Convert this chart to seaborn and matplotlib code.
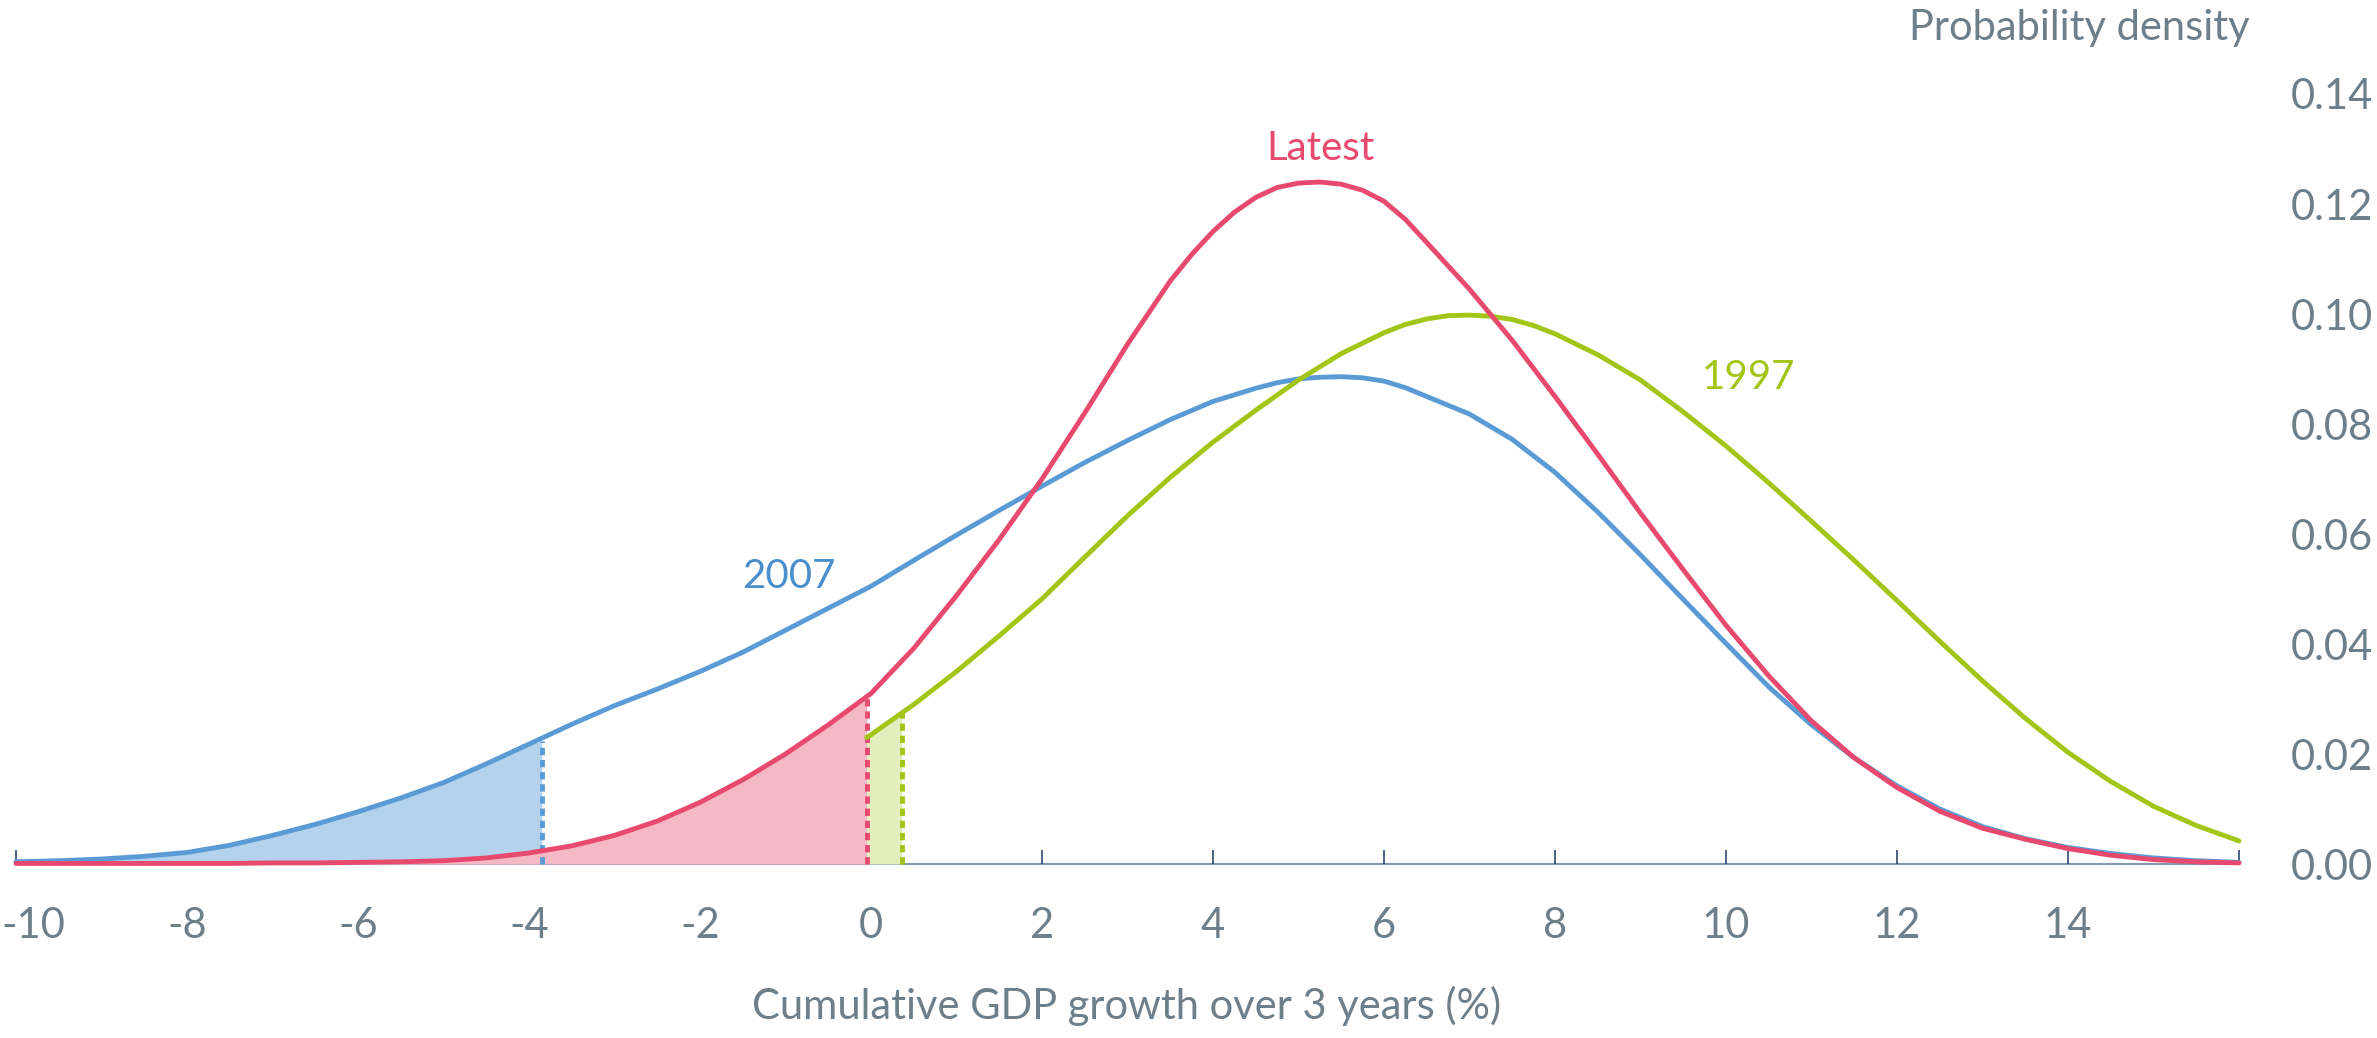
import numpy as np
import pandas as pd
import seaborn as sns
import matplotlib.pyplot as plt
import matplotlib.transforms as mtransforms

# densities (0.5 steps, a few extra points near the peaks)
x_2007 = [-10, -9.5, -9, -8.5, -8, -7.5, -7, -6.5, -6, -5.5, -5, -4.5, -4, -3.5, -3, -2.5, -2,
          -1.5, -1, -0.5, 0, 0.5, 1, 1.5, 2, 2.5, 3, 3.5, 4, 4.5, 4.75, 5, 5.25, 5.5, 5.75, 6,
          6.25, 6.5, 7, 7.5, 8, 8.5, 9, 9.5, 10, 10.5, 11, 11.5, 12, 12.5, 13, 13.5, 14, 14.5,
          15, 15.5, 16]
dens_2007 = [0.0004, 0.0006, 0.0009, 0.0014, 0.0021, 0.0034, 0.0052, 0.0072, 0.0095, 0.0120,
             0.0148, 0.0182, 0.0218, 0.0254, 0.0288, 0.0318, 0.0350, 0.0385, 0.0425, 0.0465,
             0.0505, 0.0552, 0.0598, 0.0643, 0.0687, 0.0730, 0.0770, 0.0808, 0.0841, 0.0865,
             0.0875, 0.0882, 0.0885, 0.0886, 0.0884, 0.0878, 0.0866, 0.0850, 0.0818, 0.0772,
             0.0712, 0.0640, 0.0562, 0.0481, 0.0401, 0.0322, 0.0253, 0.0193, 0.0142, 0.0100,
             0.0068, 0.0046, 0.0030, 0.0019, 0.0011, 0.0006, 0.0003]

x_latest = [-10, -9.5, -9, -8.5, -8, -7.5, -7, -6.5, -6, -5.5, -5, -4.5, -4, -3.5, -3, -2.5, -2,
            -1.5, -1, -0.5, 0, 0.5, 1, 1.5, 2, 2.5, 3, 3.5, 3.75, 4, 4.25, 4.5, 4.75, 5, 5.25,
            5.5, 5.75, 6, 6.25, 6.5, 7, 7.5, 8, 8.5, 9, 9.5, 10, 10.5, 11, 11.5, 12, 12.5, 13,
            13.5, 14, 14.5, 15, 15.5, 16]
dens_latest = [0.0001, 0.0001, 0.0001, 0.0001, 0.0001, 0.0001, 0.0002, 0.0002, 0.0003, 0.0004,
               0.0006, 0.0011, 0.0020, 0.0033, 0.0052, 0.0078, 0.0112, 0.0153, 0.0200, 0.0253,
               0.0310, 0.0392, 0.0488, 0.0590, 0.0700, 0.0820, 0.0945, 0.1060, 0.1108, 0.1150,
               0.1185, 0.1212, 0.1230, 0.1238, 0.1240, 0.1236, 0.1225, 0.1205, 0.1172, 0.1130,
               0.1045, 0.0952, 0.0850, 0.0745, 0.0638, 0.0535, 0.0434, 0.0342, 0.0260, 0.0193,
               0.0139, 0.0096, 0.0065, 0.0045, 0.0028, 0.0016, 0.0008, 0.0004, 0.0002]

x_1997 = [-0.05, 0.0, 0.5, 1.0, 1.5, 2.0, 2.5, 3.0, 3.5, 4.0, 4.5, 5.0, 5.5, 6.0, 6.25, 6.5,
          6.75, 7.0, 7.25, 7.5, 7.75, 8.0, 8.5, 9.0, 9.5, 10.0, 10.5, 11.0, 11.5, 12.0, 12.5,
          13.0, 13.5, 14.0, 14.5, 15.0, 15.5, 16.0]
dens_1997 = [0.0230, 0.0235, 0.0290, 0.0350, 0.0415, 0.0482, 0.0558, 0.0633, 0.0703, 0.0767,
             0.0825, 0.0880, 0.0928, 0.0966, 0.0981, 0.0991, 0.0997, 0.0998, 0.0996, 0.0990,
             0.0979, 0.0964, 0.0926, 0.0880, 0.0822, 0.0760, 0.0693, 0.0623, 0.0552, 0.0479,
             0.0405, 0.0333, 0.0265, 0.0203, 0.0150, 0.0105, 0.0070, 0.0042]

# shaded tails: cut-off x and the density there
cut_2007 = (-3.85, 0.0223)
cut_latest = (-0.05, 0.0307)
cut_1997 = (0.36, 0.0275)

x_ticks = list(range(-10, 17, 2))
x_tick_labels = [str(t) for t in x_ticks[:-1]] + [""]
y_ticks = [0.0, 0.02, 0.04, 0.06, 0.08, 0.10, 0.12, 0.14]

BLUE = "#5B9BD5"
RED = "#E8496E"
GREEN = "#A2C517"
GREY = "#6D7F8B"
LW = 3.5

sns.set_theme(style="white")
plt.rcParams["font.family"] = ["Lato", "DejaVu Sans"]

fig = plt.figure(figsize=(23.77, 10.38), dpi=100)
ax = fig.add_axes([16 / 2377, 174 / 1038, 2223 / 2377, 770 / 1038])


def tail(xs, ys, cut, lower=None):
    xs = np.asarray(xs); ys = np.asarray(ys)
    m = xs < cut[0] if lower is None else (xs > lower[0]) & (xs < cut[0])
    fx = list(xs[m]) + [cut[0]]
    fy = list(ys[m]) + [cut[1]]
    if lower is not None:
        fx = [lower[0]] + fx
        fy = [lower[1]] + fy
    return fx, fy


fx, fy = tail(x_2007, dens_2007, cut_2007)
ax.fill_between(fx, fy, 0, color="#B4D2EB", lw=0)
fx, fy = tail(x_latest, dens_latest, cut_latest)
ax.fill_between(fx, fy, 0, color="#F5B8C5", lw=0)
fx, fy = tail(x_1997, dens_1997, cut_1997, lower=(x_1997[0], dens_1997[0]))
ax.fill_between(fx, fy, 0, color="#E3EDBD", lw=0)

for cut, c in [(cut_2007, BLUE), (cut_latest, RED), (cut_1997, GREEN)]:
    ax.plot([cut[0], cut[0]], [0, cut[1]], color=c, linewidth=LW, linestyle=(0, (1.5, 1.0)),
            dash_capstyle="butt", clip_on=False)

df = pd.concat([
    pd.DataFrame({"x": x_2007, "y": dens_2007, "s": "2007"}),
    pd.DataFrame({"x": x_1997, "y": dens_1997, "s": "1997"}),
    pd.DataFrame({"x": x_latest, "y": dens_latest, "s": "Latest"}),
])
sns.lineplot(data=df, x="x", y="y", hue="s", palette={"2007": BLUE, "1997": GREEN, "Latest": RED},
             hue_order=["2007", "1997", "Latest"], linewidth=LW, legend=False, ax=ax, sort=False,
             estimator=None)
for ln in ax.lines:
    ln.set_clip_on(False)
    ln.set_solid_joinstyle("round")

ax.set_xlim(-10, 16)
ax.set_ylim(0, 0.14)
ax.set_xticks(x_ticks)
ax.set_xticklabels(x_tick_labels)
ax.set_yticks(y_ticks)
ax.set_yticklabels([f"{v:.2f}" for v in y_ticks])
ax.yaxis.tick_right()
ax.set_xlabel("")
ax.set_ylabel("")

ax.tick_params(axis="x", direction="in", length=10, width=1.1, color="#1F3864",
               pad=31, labelsize=30, labelcolor=GREY, bottom=True)
ax.tick_params(axis="y", length=0, pad=37, labelsize=30, labelcolor=GREY)

# keep the first label ("-10") inside the figure edge
first = ax.get_xticklabels()[0]
first.set_horizontalalignment("left")
first.set_transform(first.get_transform() + mtransforms.ScaledTranslation(-15 / 100, 0, fig.dpi_scale_trans))

for s in ["top", "left", "right"]:
    ax.spines[s].set_visible(False)
ax.spines["bottom"].set_color("#8597AD")
ax.spines["bottom"].set_linewidth(1.5)
ax.spines["bottom"].set_zorder(0.5)

ax.text(-0.96, 0.0522, "2007", color="#4A8FCB", fontsize=29, ha="center", va="center")
ax.text(5.26, 0.1300, "Latest", color=RED, fontsize=29, ha="center", va="center")
ax.text(10.26, 0.0884, "1997", color=GREEN, fontsize=29, ha="center", va="center")

fig.text(1127 / 2377, 1 - 1006 / 1038, "Cumulative GDP growth over 3 years (%)",
         color=GREY, fontsize=30, ha="center", va="center")
fig.text(2250 / 2377, 1 - 28 / 1038, "Probability density", color=GREY, fontsize=30,
         ha="right", va="center")

fig.savefig("out.png", dpi=100)
